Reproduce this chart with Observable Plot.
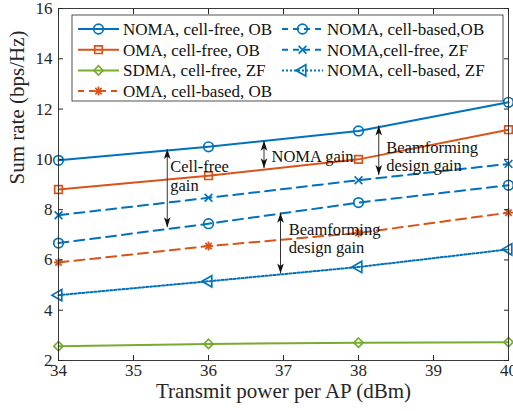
<!DOCTYPE html>
<html><head><meta charset="utf-8">
<script src="https://cdn.jsdelivr.net/npm/d3@7"></script>
<script src="https://cdn.jsdelivr.net/npm/@observablehq/plot@0.6"></script>
<style>html,body{margin:0;padding:0;background:#fff} svg{display:block}</style>
</head><body><div id="chart"></div>
<script>
// ---- data ----
const power = [34, 36, 38, 40];
const seriesNames = [
  "NOMA, cell-free, OB",
  "OMA, cell-free, OB",
  "SDMA, cell-free, ZF",
  "OMA, cell-based, OB",
  "NOMA, cell-based,OB",
  "NOMA,cell-free, ZF",
  "NOMA, cell-based, ZF"
];
const nomaCfOb = [9.96, 10.5, 11.13, 12.27];
const omaCfOb  = [8.8, 9.35, 10.0, 11.18];
const sdmaCfZf = [2.57, 2.66, 2.71, 2.73];
const omaCbOb  = [5.9, 6.55, 7.07, 7.88];
const nomaCbOb = [6.67, 7.44, 8.28, 8.97];
const nomaCfZf = [7.78, 8.47, 9.17, 9.82];
const nomaCbZf = [4.6, 5.15, 5.72, 6.42];
const seriesValues = [nomaCfOb, omaCfOb, sdmaCfZf, omaCbOb, nomaCbOb, nomaCfZf, nomaCbZf];

const xTicks = [34, 35, 36, 37, 38, 39, 40];
const yTicks = [2, 4, 6, 8, 10, 12, 14, 16];
const xLabel = "Transmit power per AP (dBm)";
const yLabel = "Sum rate (bps/Hz)";

// annotations (data coordinates)
const annX      = [35.45, 36.74, 38.27, 36.96];
const annTop    = [10.41, 10.74, 11.35, 7.88];
const annBottom = [7.3, 9.65, 9.38, 5.46];
const noteText  = ["Cell-free\ngain", "NOMA gain", "Beamforming\ndesign gain", "Beamforming\ndesign gain"];
const noteX     = [35.49, 36.84, 38.37, 37.07];
const noteY     = [9.36, 10.15, 10.12, 6.87];

// ---- styles ----
const BLUE = "#0072BD", ORANGE = "#D95319", GREEN = "#77AC30";
const star8 = {draw(ctx, size) {
  const r = Math.sqrt(size / Math.PI);
  for (let k = 0; k < 4; k++) {
    const a = k * Math.PI / 4, dx = r * Math.cos(a), dy = r * Math.sin(a);
    ctx.moveTo(-dx, -dy); ctx.lineTo(dx, dy);
  }
}};
const arrowHead = {draw(ctx) {
  ctx.moveTo(0, 0); ctx.lineTo(-3.3, 10); ctx.lineTo(0, 7.5); ctx.lineTo(3.3, 10); ctx.closePath();
}};
const seriesStyle = [
  {color: BLUE,   dash: null,   symbol: d3.symbolCircle,   r: 4.8, rotate: 0},
  {color: ORANGE, dash: null,   symbol: d3.symbolSquare,   r: 4.3, rotate: 0},
  {color: GREEN,  dash: null,   symbol: d3.symbolDiamond2, r: 4.2, rotate: 0},
  {color: ORANGE, dash: "10,6", symbol: star8,             r: 4.5, rotate: 0},
  {color: BLUE,   dash: "10,6", symbol: d3.symbolCircle,   r: 4.8, rotate: 0},
  {color: BLUE,   dash: "10,6", symbol: d3.symbolTimes,    r: 3.6, rotate: 0},
  {color: BLUE,   dash: "2,2",  symbol: d3.symbolTriangle, r: 4.2, rotate: -90}
];

const FONT = "'Liberation Serif','Times New Roman',serif";
const AX = "#262626";

const seriesMarks = seriesNames.flatMap((name, i) => {
  const st = seriesStyle[i];
  const rows = power.map((p, j) => ({x: p, y: seriesValues[i][j]}));
  return [
    Plot.line(rows, {x: "x", y: "y", stroke: st.color, strokeWidth: 2, strokeDasharray: st.dash ?? undefined}),
    Plot.dot(rows, {x: "x", y: "y", symbol: st.symbol, r: st.r, rotate: st.rotate, stroke: st.color, fill: "none", strokeWidth: 1.7})
  ];
});

const ann = annX.map((x, i) => ({x, y1: annTop[i], y2: annBottom[i]}));
const notes = noteText.map((t, i) => ({t, x: noteX[i], y: noteY[i]}));

const svg = Plot.plot({
  width: 513, height: 411,
  marginLeft: 58, marginRight: 5, marginTop: 8, marginBottom: 51,
  x: {domain: [34, 40]},
  y: {domain: [2, 16]},
  style: {fontFamily: FONT, fontSize: "17px", color: AX, background: "#fff"},
  marks: [
    ...seriesMarks,
    Plot.link(ann, {x1: "x", x2: "x", y1: "y1", y2: "y2", stroke: "#333", strokeWidth: 1}),
    Plot.dot(ann, {x: "x", y: "y1", symbol: arrowHead, fill: "#111", stroke: "none", r: 3}),
    Plot.dot(ann, {x: "x", y: "y2", symbol: arrowHead, rotate: 180, fill: "#111", stroke: "none", r: 3}),
    Plot.text(notes, {x: "x", y: "y", text: "t", textAnchor: "start", lineAnchor: "middle", fontSize: 16.5, lineHeight: 1.12, fill: "#111"}),
    Plot.frame({stroke: AX, strokeWidth: 0.9}),
    Plot.axisX({anchor: "bottom", ticks: xTicks, tickSize: -5, tickFormat: () => "", label: null, stroke: AX}),
    Plot.axisX({anchor: "top", ticks: xTicks, tickSize: -5, tickFormat: () => "", label: null, stroke: AX}),
    Plot.axisY({anchor: "left", ticks: yTicks, tickSize: -5, tickFormat: () => "", label: null, stroke: AX}),
    Plot.axisY({anchor: "right", ticks: yTicks, tickSize: -5, tickFormat: () => "", label: null, stroke: AX}),
    Plot.axisX({anchor: "bottom", ticks: xTicks, tickSize: 0, tickPadding: 3, tickFormat: d => String(d), label: null, fontSize: 17, fill: AX}),
    Plot.axisY({anchor: "left", ticks: yTicks, tickSize: 0, tickPadding: 6, tickFormat: d => String(d), label: null, fontSize: 17, fill: AX}),
    Plot.text([xLabel], {text: d => d, frameAnchor: "bottom", dy: 31, lineAnchor: "middle", fontSize: 21, fill: AX}),
    Plot.text([yLabel], {text: d => d, frameAnchor: "left", dx: -41, rotate: -90, lineAnchor: "middle", fontSize: 21, fill: AX})
  ]
});
document.getElementById("chart").appendChild(svg);

// ---- legend (inside the axes, top) ----
const lg = d3.select(svg).append("g").attr("font-family", FONT).attr("font-size", 17).attr("text-anchor", "start");
lg.append("rect").attr("x", 72).attr("y", 15).attr("width", 431).attr("height", 86)
  .attr("fill", "#fff").attr("stroke", AX).attr("stroke-width", 0.8);
const colX = [78, 282], rowY0 = 29, rowDy = 20.7, sampleW = 41;
seriesNames.forEach((name, i) => {
  const st = seriesStyle[i];
  const col = i < 4 ? 0 : 1, row = i < 4 ? i : i - 4;
  const x0 = colX[col], y = rowY0 + row * rowDy;
  lg.append("line").attr("x1", x0).attr("x2", x0 + sampleW).attr("y1", y).attr("y2", y)
    .attr("stroke", st.color).attr("stroke-width", 2)
    .attr("stroke-dasharray", st.dash ? (st.dash === "2,2" ? "2,2" : "6,5") : null);
  lg.append("path").attr("d", d3.symbol(st.symbol, Math.PI * st.r * st.r)())
    .attr("transform", `translate(${x0 + sampleW / 2},${y}) rotate(${st.rotate})`)
    .attr("fill", "none").attr("stroke", st.color).attr("stroke-width", 1.7);
  lg.append("text").attr("x", x0 + sampleW + 4).attr("y", y).attr("dy", "0.35em")
    .attr("text-anchor", "start").attr("fill", "#111").text(name);
});
</script>
</body></html>
